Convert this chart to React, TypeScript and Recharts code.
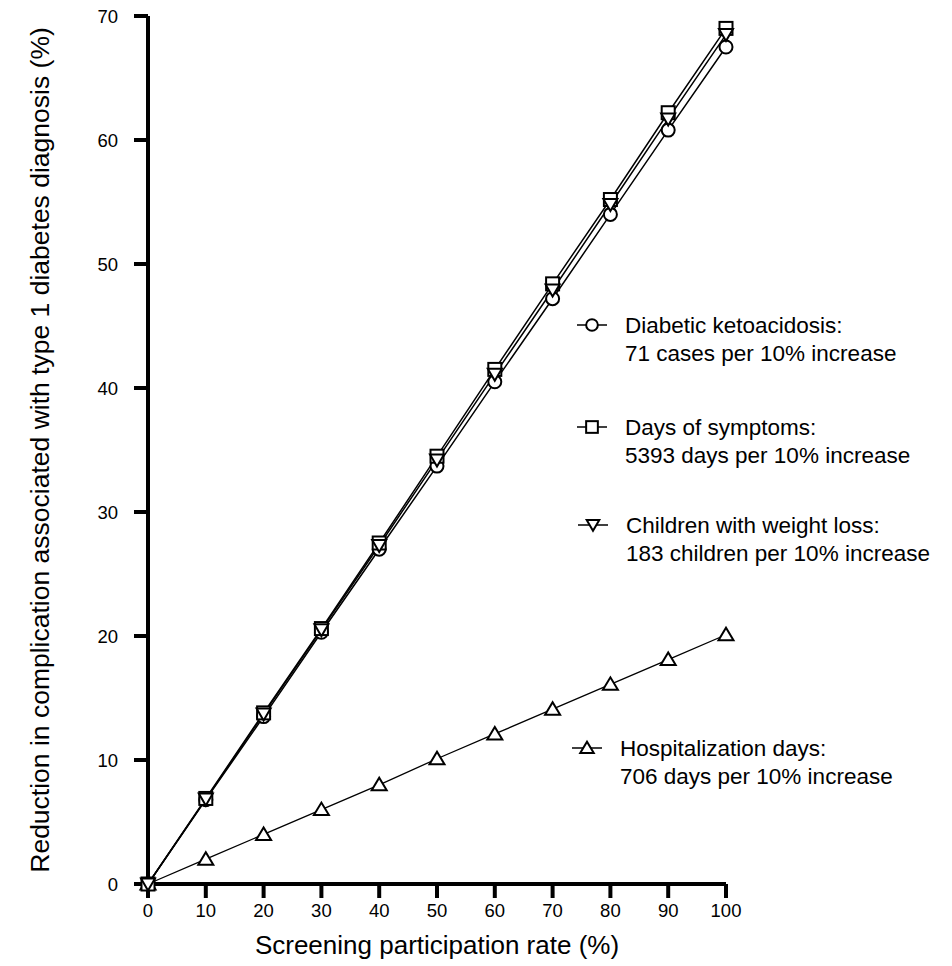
import { LineChart, Line, XAxis, YAxis, Label } from "recharts";

const FONT = "'Liberation Sans', Arial, sans-serif";

// screening participation rate (%)
const rates = [0, 10, 20, 30, 40, 50, 60, 70, 80, 90, 100];

// reduction in each complication (%)
const ketoacidosis = [0, 6.8, 13.5, 20.3, 27.0, 33.7, 40.5, 47.2, 54.0, 60.8, 67.5];
const symptomDays = [0, 6.9, 13.8, 20.6, 27.5, 34.5, 41.5, 48.4, 55.2, 62.2, 69.0];
const weightLoss = [0, 6.85, 13.7, 20.5, 27.3, 34.2, 41.1, 47.9, 54.8, 61.7, 68.5];
const hospitalDays = [0, 2.0, 4.0, 6.0, 8.0, 10.1, 12.1, 14.1, 16.1, 18.1, 20.1];

const xTicks = [0, 10, 20, 30, 40, 50, 60, 70, 80, 90, 100];
const yTicks = [0, 10, 20, 30, 40, 50, 60, 70];

const data = rates.map((rate, i) => ({
  rate,
  dka: ketoacidosis[i],
  symptoms: symptomDays[i],
  weight: weightLoss[i],
  hosp: hospitalDays[i],
}));

const legendItems = [
  { shape: "circle", lines: ["Diabetic ketoacidosis:", "71 cases per 10% increase"] },
  { shape: "square", lines: ["Days of symptoms:", "5393 days per 10% increase"] },
  { shape: "down", lines: ["Children with weight loss:", "183 children per 10% increase"] },
  { shape: "up", lines: ["Hospitalization days:", "706 days per 10% increase"] },
];

function Marker({ shape, cx, cy, s = 1 }: { shape: string; cx: number; cy: number; s?: number }) {
  const common = { fill: "#fff", stroke: "#000", strokeWidth: 2 };
  if (shape === "circle") return <circle cx={cx} cy={cy} r={6.5 * s} {...common} />;
  if (shape === "square")
    return <rect x={cx - 6.5 * s} y={cy - 6.5 * s} width={13 * s} height={13 * s} {...common} />;
  if (shape === "down")
    return (
      <polygon
        points={`${cx - 7 * s},${cy - 5.5 * s} ${cx + 7 * s},${cy - 5.5 * s} ${cx},${cy + 6.5 * s}`}
        {...common}
      />
    );
  return (
    <polygon
      points={`${cx - 7.5 * s},${cy + 5.5 * s} ${cx + 7.5 * s},${cy + 5.5 * s} ${cx},${cy - 7 * s}`}
      {...common}
    />
  );
}

const dotFor = (shape: string) => (p: any) =>
  <Marker key={`${shape}-${p.index}`} shape={shape} cx={p.cx} cy={p.cy} />;

// legend rows placed inside the plot, right side
const legendPos = [
  { x: 592, y: 325, tx: 625 },
  { x: 592, y: 427, tx: 625 },
  { x: 593, y: 525, tx: 626 },
  { x: 587, y: 748, tx: 620 },
];

export default function App() {
  const tickStyle = { fill: "#000", fontSize: 18.5, fontFamily: FONT };
  const axisStroke = { stroke: "#000", strokeWidth: 4 };
  return (
    <div style={{ position: "absolute", left: 0, top: 0, width: 952, height: 966, background: "#fff" }}>
      <LineChart
        width={952}
        height={966}
        data={data}
        margin={{ top: 16, right: 226, bottom: 10, left: 0 }}
      >
        <XAxis
          dataKey="rate"
          type="number"
          domain={[0, 100]}
          ticks={xTicks}
          tickSize={14}
          tickMargin={6}
          height={72}
          tick={tickStyle}
          axisLine={axisStroke}
          tickLine={axisStroke}
        >
          <Label
            value="Screening participation rate (%)"
            position="insideBottom"
            offset={2}
            style={{ fill: "#000", fontSize: 26, fontFamily: FONT }}
          />
        </XAxis>
        <YAxis
          type="number"
          domain={[0, 70]}
          ticks={yTicks}
          width={148}
          tickSize={14}
          tickMargin={16}
          tick={tickStyle}
          axisLine={axisStroke}
          tickLine={axisStroke}
        >
          <Label
            value="Reduction in complication associated with type 1 diabetes diagnosis (%)"
            angle={-90}
            position="insideLeft"
            offset={40}
            style={{ fill: "#000", fontSize: 26.5, fontFamily: FONT, textAnchor: "middle" }}
          />
        </YAxis>
        <Line dataKey="hosp" stroke="#000" strokeWidth={1.3} dot={dotFor("up")} isAnimationActive={false} />
        <Line dataKey="dka" stroke="#000" strokeWidth={1.5} dot={dotFor("circle")} isAnimationActive={false} />
        <Line dataKey="symptoms" stroke="#000" strokeWidth={1.5} dot={dotFor("square")} isAnimationActive={false} />
        <Line dataKey="weight" stroke="#000" strokeWidth={1.5} dot={dotFor("down")} isAnimationActive={false} />
      </LineChart>
      <svg
        width={952}
        height={966}
        style={{ position: "absolute", left: 0, top: 0, pointerEvents: "none" }}
      >
        {legendItems.map((item, i) => {
          const p = legendPos[i];
          return (
            <g key={i}>
              <line x1={p.x - 15} x2={p.x + 15} y1={p.y} y2={p.y} stroke="#000" strokeWidth={1.5} />
              <Marker shape={item.shape} cx={p.x} cy={p.y} s={0.9} />
              {item.lines.map((t, j) => (
                <text
                  key={j}
                  x={p.tx}
                  y={p.y + j * 28}
                  dy="0.35em"
                  fontSize={22.5}
                  fontFamily={FONT}
                  fill="#000"
                >
                  {t}
                </text>
              ))}
            </g>
          );
        })}
      </svg>
    </div>
  );
}
